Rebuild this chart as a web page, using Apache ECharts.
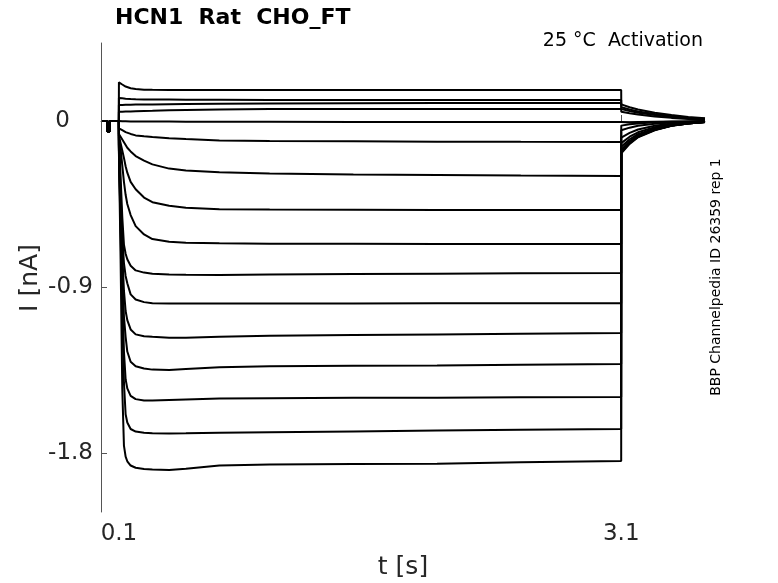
<!DOCTYPE html>
<html>
<head>
<meta charset="utf-8">
<script src="https://cdn.jsdelivr.net/npm/echarts@6/dist/echarts.min.js"></script>
<style>
html,body{margin:0;padding:0;background:#fff;}
#chart{width:778px;height:583px;}
</style>
</head>
<body>
<div id="chart"></div>
<script>
// ---- data (time in s, current in nA) ----
const PRE_T = [0, 0.031, 0.0312, 0.046, 0.0462, 0.0995];
const PRE_I = [0, 0, -0.055, -0.055, 0, 0];

const STEP_T = [0.1, 0.11, 0.12, 0.13, 0.14, 0.15, 0.17, 0.2, 0.25, 0.3, 0.4, 0.5, 0.7, 1.0, 1.5, 2.0, 2.5, 3.0995];
const TAIL_T = [3.1, 3.15, 3.2, 3.3, 3.4, 3.5, 3.6];

const step01 = [0.21, 0.205, 0.198, 0.192, 0.187, 0.184, 0.178, 0.174, 0.17, 0.169, 0.168, 0.168, 0.168, 0.168, 0.168, 0.168, 0.168, 0.168];
const step02 = [0.125, 0.124, 0.123, 0.122, 0.121, 0.12, 0.119, 0.118, 0.117, 0.117, 0.116, 0.115, 0.115, 0.114, 0.114, 0.114, 0.114, 0.114];
const step03 = [0.087, 0.087, 0.087, 0.087, 0.088, 0.088, 0.088, 0.089, 0.089, 0.09, 0.091, 0.092, 0.094, 0.095, 0.096, 0.097, 0.098, 0.098];
const step04 = [0.05, 0.05, 0.05, 0.051, 0.051, 0.052, 0.052, 0.053, 0.054, 0.055, 0.058, 0.06, 0.063, 0.065, 0.065, 0.065, 0.065, 0.065];
const step05 = [0.0, 0.0, -0.001, -0.001, -0.001, -0.002, -0.002, -0.002, -0.003, -0.003, -0.003, -0.004, -0.004, -0.004, -0.005, -0.005, -0.005, -0.005];
const step06 = [-0.04, -0.045, -0.05, -0.055, -0.06, -0.064, -0.07, -0.078, -0.083, -0.087, -0.094, -0.098, -0.105, -0.108, -0.11, -0.112, -0.113, -0.114];
const step07 = [-0.07, -0.085, -0.1, -0.115, -0.13, -0.145, -0.165, -0.19, -0.215, -0.235, -0.258, -0.268, -0.278, -0.285, -0.29, -0.293, -0.296, -0.298];
const step08 = [-0.08, -0.12, -0.16, -0.2, -0.245, -0.28, -0.33, -0.37, -0.415, -0.44, -0.46, -0.47, -0.478, -0.48, -0.481, -0.482, -0.483, -0.483];
const step09 = [-0.09, -0.15, -0.24, -0.33, -0.4, -0.45, -0.51, -0.57, -0.615, -0.64, -0.655, -0.66, -0.663, -0.665, -0.666, -0.667, -0.667, -0.667];
const step10 = [-0.1, -0.3, -0.52, -0.67, -0.72, -0.75, -0.785, -0.81, -0.822, -0.828, -0.832, -0.834, -0.835, -0.832, -0.83, -0.828, -0.826, -0.824];
const step11 = [-0.12, -0.4, -0.62, -0.77, -0.84, -0.88, -0.94, -0.968, -0.982, -0.988, -0.99, -0.99, -0.99, -0.989, -0.989, -0.988, -0.988, -0.988];
const step12 = [-0.13, -0.45, -0.72, -0.92, -1.03, -1.08, -1.13, -1.157, -1.167, -1.17, -1.175, -1.175, -1.17, -1.165, -1.16, -1.157, -1.153, -1.15];
const step13 = [-0.14, -0.5, -0.82, -1.06, -1.17, -1.25, -1.305, -1.33, -1.342, -1.348, -1.35, -1.345, -1.335, -1.33, -1.327, -1.325, -1.322, -1.318];
const step14 = [-0.15, -0.55, -0.92, -1.25, -1.4, -1.45, -1.49, -1.508, -1.516, -1.516, -1.513, -1.51, -1.505, -1.503, -1.5, -1.5, -1.498, -1.497];
const step15 = [-0.16, -0.6, -1.05, -1.42, -1.59, -1.635, -1.67, -1.684, -1.69, -1.693, -1.694, -1.693, -1.69, -1.688, -1.683, -1.678, -1.674, -1.67];
const step16 = [-0.17, -0.75, -1.45, -1.76, -1.82, -1.845, -1.868, -1.88, -1.887, -1.89, -1.892, -1.885, -1.868, -1.862, -1.86, -1.858, -1.85, -1.844];

const tail01 = [0.09, 0.075, 0.062, 0.045, 0.032, 0.022, 0.015];
const tail02 = [0.075, 0.062, 0.052, 0.038, 0.027, 0.018, 0.012];
const tail03 = [0.065, 0.054, 0.045, 0.032, 0.022, 0.015, 0.01];
const tail04 = [0.05, 0.042, 0.035, 0.025, 0.017, 0.011, 0.007];
const tail05 = [-0.01, -0.008, -0.006, -0.004, -0.003, -0.002, -0.001];
const tail06 = [-0.025, -0.018, -0.013, -0.007, -0.004, -0.002, 0.0];
const tail07 = [-0.05, -0.036, -0.026, -0.015, -0.008, -0.004, -0.002];
const tail08 = [-0.09, -0.064, -0.046, -0.026, -0.014, -0.007, -0.003];
const tail09 = [-0.12, -0.085, -0.061, -0.034, -0.018, -0.009, -0.004];
const tail10 = [-0.14, -0.099, -0.071, -0.04, -0.021, -0.011, -0.005];
const tail11 = [-0.155, -0.11, -0.078, -0.044, -0.023, -0.012, -0.005];
const tail12 = [-0.16, -0.113, -0.081, -0.045, -0.024, -0.012, -0.005];
const tail13 = [-0.165, -0.117, -0.083, -0.047, -0.025, -0.013, -0.005];
const tail14 = [-0.168, -0.119, -0.085, -0.048, -0.025, -0.013, -0.005];
const tail15 = [-0.17, -0.12, -0.086, -0.048, -0.026, -0.013, -0.005];
const tail16 = [-0.175, -0.124, -0.088, -0.05, -0.026, -0.013, -0.006];

const STEPS = [step01, step02, step03, step04, step05, step06, step07, step08, step09, step10, step11, step12, step13, step14, step15, step16];
const TAILS = [tail01, tail02, tail03, tail04, tail05, tail06, tail07, tail08, tail09, tail10, tail11, tail12, tail13, tail14, tail15, tail16];

const X_TICKS = [0.1, 3.1];
const Y_TICKS = [-1.8, -0.9, 0];

const TITLE = 'HCN1  Rat  CHO_FT';
const SUBTITLE = '25 °C  Activation';
const SIDE_NOTE = 'BBP Channelpedia ID 26359 rep 1';
const X_NAME = 't [s]';
const Y_NAME = 'I [nA]';

// ---- build chart ----
const T_ALL = PRE_T.concat(STEP_T, TAIL_T);
const series = STEPS.map(function (s, k) {
  const I_ALL = PRE_I.concat(s, TAILS[k]);
  return {
    type: 'line',
    data: T_ALL.map(function (t, i) { return [t, I_ALL[i]]; }),
    showSymbol: false,
    silent: true,
    lineStyle: { color: '#000000', width: 2 },
    z: 2
  };
});

const FONT = 'DejaVu Sans';
const AX = '#555555';
const LBL = '#262626';

const chart = echarts.init(document.getElementById('chart'), null, { renderer: 'canvas' });
chart.setOption({
  animation: false,
  backgroundColor: '#ffffff',
  grid: { left: 101, right: 73, top: 43, bottom: 71, containLabel: false, outerBoundsMode: 'none' },
  xAxis: {
    type: 'value', min: -0.007, max: 3.6,
    axisLine: { show: true, lineStyle: { color: AX, width: 1 } },
    axisTick: { show: true, inside: true, length: 6, customValues: X_TICKS, lineStyle: { color: AX } },
    axisLabel: { customValues: X_TICKS, fontFamily: FONT, fontSize: 23, color: LBL, margin: 11,
      formatter: function (v) { return String(v); } },
    splitLine: { show: false }
  },
  yAxis: {
    type: 'value', min: -2.12, max: 0.423,
    axisLine: { show: true, onZero: false, lineStyle: { color: AX, width: 1 } },
    axisTick: { show: true, inside: true, length: 6, customValues: Y_TICKS, lineStyle: { color: AX } },
    axisLabel: { customValues: Y_TICKS, fontFamily: FONT, fontSize: 23, color: LBL, margin: 8,
      formatter: function (v) { return v === 0 ? '{z|0}' : String(v); },
      rich: { z: { fontFamily: FONT, fontSize: 23, color: LBL, padding: [0, 23, 0, 0] } } },
    splitLine: { show: false }
  },
  series: series,
  graphic: [
    { type: 'text', x: 115, y: 18, style: { text: TITLE, fontFamily: FONT, fontSize: 22, fontWeight: 'bold', fill: '#000', align: 'left', verticalAlign: 'middle' } },
    { type: 'text', x: 703, y: 41, style: { text: SUBTITLE, fontFamily: FONT, fontSize: 19, fill: '#000', align: 'right', verticalAlign: 'middle' } },
    { type: 'text', x: 716, y: 277, rotation: Math.PI / 2, style: { text: SIDE_NOTE, fontFamily: FONT, fontSize: 14, fill: '#000', align: 'center', verticalAlign: 'middle' } },
    { type: 'text', x: 30, y: 278, rotation: Math.PI / 2, style: { text: Y_NAME, fontFamily: FONT, fontSize: 25, fill: LBL, align: 'center', verticalAlign: 'middle' } },
    { type: 'text', x: 403, y: 567, style: { text: X_NAME, fontFamily: FONT, fontSize: 25, fill: LBL, align: 'center', verticalAlign: 'middle' } }
  ]
});
</script>
</body>
</html>
